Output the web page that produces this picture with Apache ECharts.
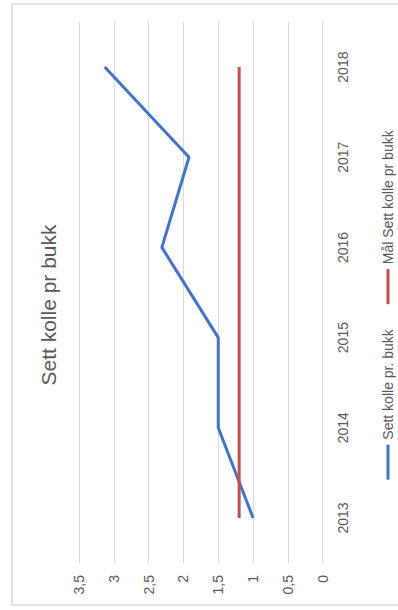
<!DOCTYPE html>
<html>
<head>
<meta charset="utf-8">
<script src="https://cdn.jsdelivr.net/npm/echarts@6/dist/echarts.min.js"></script>
<style>
html,body{margin:0;padding:0;background:#fff;overflow:hidden;}
#frame{position:absolute;left:11px;top:3px;width:400px;height:603px;border:2px solid #e3e3e3;box-sizing:border-box;}
#c{position:absolute;left:0;top:0;width:610px;height:398px;transform-origin:0 0;transform:translate(0,610px) rotate(-90deg);}
</style>
</head>
<body>
<div id="frame"></div>
<div id="c"></div>
<script>
const titleText = "Sett kolle pr bukk";
const years = ["2013","2014","2015","2016","2017","2018"];
const seenName = "Sett kolle pr. bukk";
const seenValues = [1.0, 1.5, 1.5, 2.31, 1.92, 3.13];
const goalName = "Mål Sett kolle pr bukk";
const goalValues = [1.2, 1.2, 1.2, 1.2, 1.2, 1.2];
const valueTicks = [0, 0.5, 1, 1.5, 2, 2.5, 3, 3.5];

const chart = echarts.init(document.getElementById('c'), null, {renderer:'svg', width:610, height:398});
const textColor = '#595959';
chart.setOption({
  animation:false,
  backgroundColor:'transparent',
  textStyle:{fontFamily:'Liberation Sans, Arial, sans-serif'},
  title:{text:titleText,left:'center',top:33,textStyle:{fontSize:21,fontWeight:'normal',color:textColor,fontFamily:'Liberation Sans'}},
  legend:{
    top:376,left:'center',itemWidth:35,itemHeight:3,itemGap:25,icon:'rect',
    textStyle:{fontSize:14,color:textColor,fontFamily:'Liberation Sans'},
    data:[seenName, goalName]
  },
  grid:{left:47,right:22,top:79,bottom:75.3,containLabel:false},
  xAxis:{
    type:'category',data:years,boundaryGap:true,
    axisLine:{show:false},axisTick:{show:false},
    axisLabel:{color:textColor,fontSize:14,margin:13,fontFamily:'Liberation Sans'}
  },
  yAxis:{
    type:'value',min:valueTicks[0],max:valueTicks[valueTicks.length-1],interval:0.5,
    axisLine:{show:false},axisTick:{show:false},
    splitLine:{lineStyle:{color:'#d9d9d9',width:1}},
    axisLabel:{color:textColor,fontSize:14,margin:12,fontFamily:'Liberation Sans',
      formatter:v=>String(v).replace('.',',')}
  },
  series:[
    {name:seenName,type:'line',data:seenValues,showSymbol:false,symbol:'none',
     lineStyle:{color:'#4472C4',width:3},itemStyle:{color:'#4472C4'}},
    {name:goalName,type:'line',data:goalValues,showSymbol:false,symbol:'none',
     lineStyle:{color:'#C0504D',width:3},itemStyle:{color:'#C0504D'}}
  ]
});
</script>
</body>
</html>
